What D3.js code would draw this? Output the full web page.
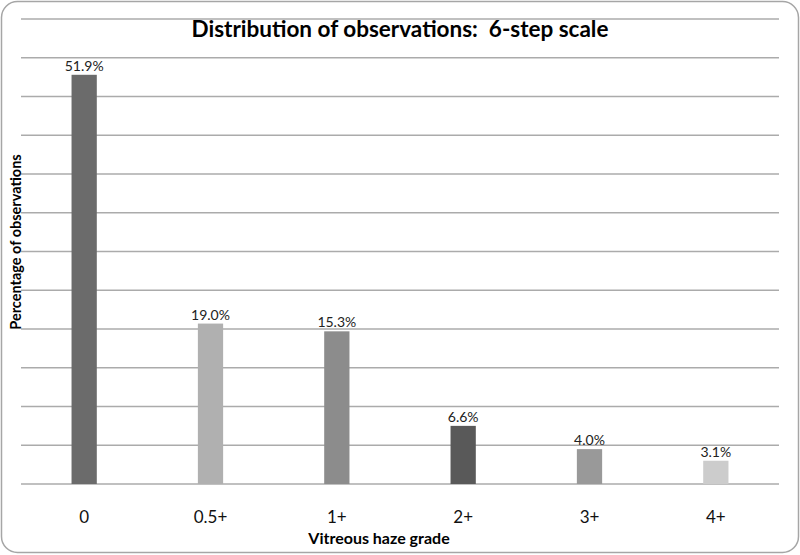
<!DOCTYPE html>
<html>
<head>
<meta charset="utf-8">
<script src="https://cdn.jsdelivr.net/npm/d3@7"></script>
<style>
    body { margin: 0; background: #fff; }
    svg text { font-family: Lato, "Open Sans", sans-serif; }
</style>
</head>
<body>
<div id="chart"></div>
<script>

// data
let grades = ['0', '0.5+', '1+', '2+', '3+', '4+'];
// bar heights as drawn (gridlines every 5 units)
let barHeights = [52.8, 20.7, 19.7, 7.5, 4.5, 3.0];
// labels printed on top of the bars
let barLabels = ['51.9%', '19.0%', '15.3%', '6.6%', '4.0%', '3.1%'];
let barColors = ['#6b6b6b', '#b0b0b0', '#8c8c8c', '#595959', '#999999', '#cccccc'];
let gridTicks = d3.range(0, 61, 5);

let W = 800, H = 555;
let margin = {top: 19, right: 21, bottom: 71, left: 21};
let width = W - margin.left - margin.right;
let height = H - margin.top - margin.bottom;

let svg = d3.select('#chart').append('svg')
    .attr('width', W)
    .attr('height', H);

// outer frame
svg.append('rect')
    .attr('x', 1.5).attr('y', 1.5)
    .attr('width', W - 3).attr('height', H - 4)
    .attr('rx', 16).attr('ry', 16)
    .attr('fill', '#fff')
    .attr('stroke', '#a6a6a6')
    .attr('stroke-width', 1.5);

let g = svg.append('g')
    .attr('transform', `translate(${margin.left}, ${margin.top})`);

let x = d3.scaleBand()
    .domain(grades)
    .range([0, width])
    .paddingInner(0.8)
    .paddingOuter(0.4);

let y = d3.scaleLinear()
    .domain([0, 60])
    .range([height, 0]);

// gridlines
g.append('g')
    .attr('class', 'grid')
    .selectAll('line')
    .data(gridTicks)
    .enter()
    .append('line')
    .attr('x1', 0)
    .attr('x2', width)
    .attr('y1', d => y(d))
    .attr('y2', d => y(d))
    .attr('stroke', '#ababab')
    .attr('stroke-width', 1.3);

// bars
let data = grades.map((d, i) => ({grade: d, v: barHeights[i], label: barLabels[i], color: barColors[i]}));

g.selectAll('rect.bar')
    .data(data)
    .enter()
    .append('rect')
    .attr('class', 'bar')
    .attr('x', d => x(d.grade))
    .attr('y', d => y(d.v))
    .attr('width', x.bandwidth())
    .attr('height', d => height - y(d.v))
    .attr('fill', d => d.color);

g.selectAll('text.val')
    .data(data)
    .enter()
    .append('text')
    .attr('class', 'val')
    .attr('x', d => x(d.grade) + x.bandwidth() / 2)
    .attr('y', d => y(d.v) - 4)
    .attr('text-anchor', 'middle')
    .attr('font-size', 14)
    .attr('fill', '#222')
    .text(d => d.label);

// x axis labels
let xAxis = g.append('g')
    .attr('transform', `translate(0, ${height})`)
    .call(d3.axisBottom(x).tickSize(0).tickPadding(27));
xAxis.select('.domain').remove();
xAxis.selectAll('text')
    .attr('font-size', 17)
    .attr('fill', '#111')
    .style('font-family', 'Lato, "Open Sans", sans-serif');

// titles
svg.append('text')
    .attr('x', 400)
    .attr('y', 37)
    .attr('text-anchor', 'middle')
    .attr('font-size', 22.5)
    .attr('font-weight', 'bold')
    .attr('fill', '#000')
    .attr('xml:space', 'preserve')
    .style('white-space', 'pre')
    .text('Distribution of observations:  6-step scale');

svg.append('text')
    .attr('x', 379)
    .attr('y', 544)
    .attr('text-anchor', 'middle')
    .attr('font-size', 16)
    .attr('font-weight', 'bold')
    .attr('fill', '#000')
    .text('Vitreous haze grade');

svg.append('text')
    .attr('transform', 'translate(21, 242) rotate(-90)')
    .attr('text-anchor', 'middle')
    .attr('font-size', 14.5)
    .attr('font-weight', 'bold')
    .attr('fill', '#000')
    .text('Percentage of observations');

</script>
</body>
</html>
